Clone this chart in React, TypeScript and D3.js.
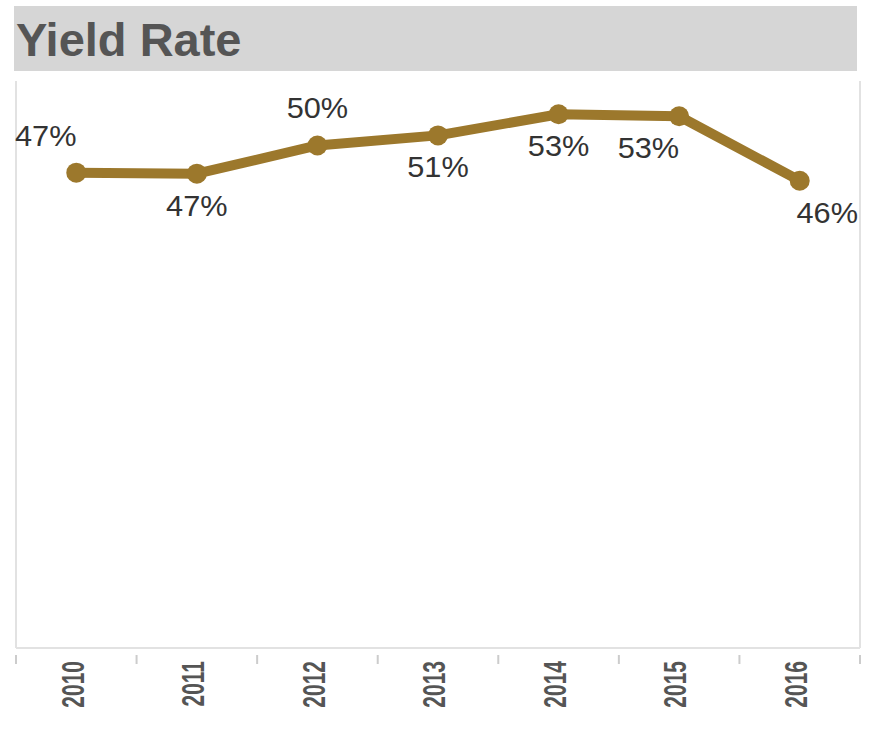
import React from "react";
import * as d3 from "d3";

const years = ["2010", "2011", "2012", "2013", "2014", "2015", "2016"];
const yieldRate = [0.472, 0.471, 0.499, 0.509, 0.530, 0.528, 0.464];
const labelSide = ["above", "below", "above", "below", "below", "below", "below"];
const labelAnchor = ["plotStart", "middle", "middle", "middle", "middle", "end", "plotEnd"];
const title = "Yield Rate";

const W = 870;
const H = 734;
const plot = { left: 16, right: 860, top: 81, bottom: 648 };
const lineColor = "#9c782c";
const textColor = "#555555";
const font = "'Liberation Sans', Arial, Helvetica, sans-serif";

export default function App() {
  const x = d3.scaleBand<string>().domain(years).range([plot.left, plot.right]).padding(0);
  const y = d3.scaleLinear().domain([0, 0.563]).range([plot.bottom, plot.top]);
  const cx = (yr: string) => (x(yr) as number) + x.bandwidth() / 2;
  const line = d3
    .line<number>()
    .x((_, i) => cx(years[i]))
    .y((d) => y(d));
  const fmt = d3.format(".0%");
  const boundaries = years.map((yr) => x(yr) as number).concat([plot.right]);

  return (
    <div style={{ position: "fixed", left: 0, top: 0 }}>
      <svg width={W} height={H} style={{ display: "block", background: "#fff" }}>
        <rect x={14} y={6} width={843} height={65} fill="#d6d6d6" />
        <text x={16} y={56} fontFamily={font} fontWeight="bold" fontSize={47} fill={textColor}>
          {title}
        </text>
        <line x1={plot.left} x2={plot.left} y1={plot.top} y2={plot.bottom} stroke="#e2e2e2" strokeWidth={2} />
        <line x1={plot.right} x2={plot.right} y1={plot.top} y2={plot.bottom} stroke="#e2e2e2" strokeWidth={2} />
        <line x1={plot.left} x2={plot.right} y1={plot.bottom} y2={plot.bottom} stroke="#e2e2e2" strokeWidth={2} />
        {boundaries.map((b, i) => (
          <line key={"t" + i} x1={b} x2={b} y1={655} y2={664} stroke="#cccccc" strokeWidth={2} />
        ))}
        {years.map((yr) => (
          <text
            key={"x" + yr}
            transform={`translate(${cx(yr) - 4},661) scale(1.5,1) rotate(-90)`}
            textAnchor="end"
            dy="0.36em"
            fontFamily={font}
            fontWeight="bold"
            fontSize={21}
            fill={textColor}
          >
            {yr}
          </text>
        ))}
        <path d={line(yieldRate) || ""} fill="none" stroke={lineColor} strokeWidth={10} strokeLinejoin="round" />
        {yieldRate.map((v, i) => (
          <circle key={"c" + i} cx={cx(years[i])} cy={y(v)} r={10} fill={lineColor} />
        ))}
        {yieldRate.map((v, i) => {
          const px = cx(years[i]);
          const py = y(v);
          const a = labelAnchor[i];
          let tx = px;
          let anchor = "middle";
          if (a === "plotStart") {
            tx = plot.left - 1;
            anchor = "start";
          } else if (a === "plotEnd") {
            tx = plot.right - 2;
            anchor = "end";
          } else if (a === "end") {
            tx = px;
            anchor = "end";
          }
          const ty = labelSide[i] === "above" ? py - 27 : py + 42;
          return (
            <text
              key={"l" + i}
              transform={`translate(${tx},${ty}) scale(1.06,1)`}
              textAnchor={anchor}
              fontFamily={font}
              fontSize={29}
              fill="#333333"
            >
              {fmt(v)}
            </text>
          );
        })}
      </svg>
    </div>
  );
}
